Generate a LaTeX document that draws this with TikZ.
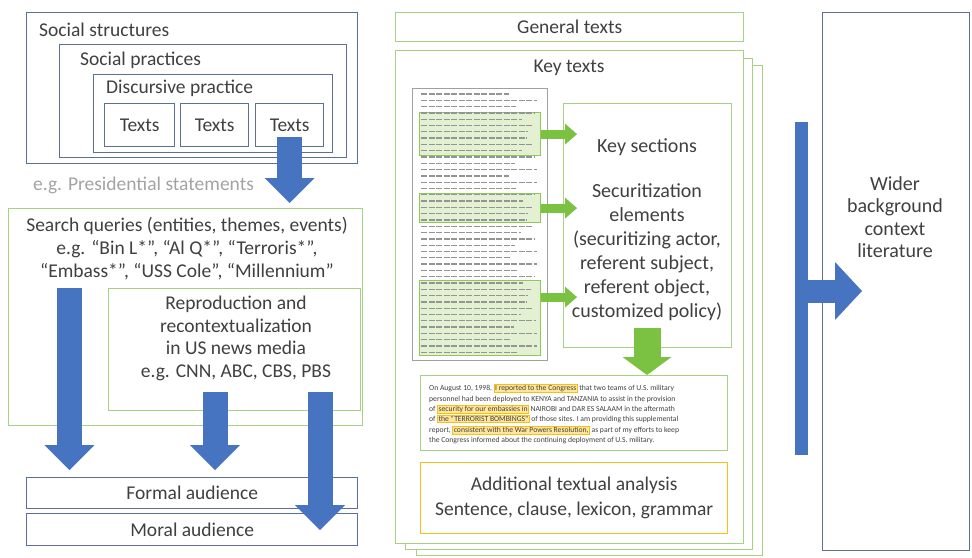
\documentclass[tikz,border=0pt]{standalone}
\usepackage{fontspec}
\setmainfont{Carlito}
\usetikzlibrary{arrows.meta}
\usetikzlibrary{positioning}
\definecolor{boxblue}{HTML}{5C6E9A}
\definecolor{arrowblue}{HTML}{4674C0}
\definecolor{boxgreen}{HTML}{A6D282}
\definecolor{arrowgreen}{HTML}{7CC242}
\definecolor{hlgreen}{HTML}{E3F1D2}
\definecolor{hlborder}{HTML}{8DC95A}
\definecolor{boxorange}{HTML}{F8BF1A}
\definecolor{hlorange}{HTML}{FFE699}
\definecolor{txtgrey}{HTML}{404040}
\definecolor{egrey}{HTML}{A3A3A3}
\definecolor{docgrey}{HTML}{A0A0A0}
\newcommand{\hlo}[1]{{\setlength{\fboxsep}{0.5pt}\setlength{\fboxrule}{0.8pt}\fcolorbox{boxorange}{hlorange}{#1}}}

\begin{document}
\begin{tikzpicture}[x=1pt,y=-1pt,
            lbl/.style={text=txtgrey,font=\fontsize{19.5}{23}\selectfont,align=center,inner sep=0pt},
            box/.style={line width=1.4pt,anchor=north west,inner sep=0pt,fill=white},
            bluebox/.style={box,draw=boxblue},
            greenbox/.style={box,draw=boxgreen},
            orangebox/.style={box,draw=boxorange},
            hlbox/.style={box,draw=hlborder,fill=hlgreen,line width=1.2pt},
            docline/.style={black!42,line width=1.3pt,dash pattern=on 6pt off 1.5pt},
            bigarrow/.style={draw=arrowblue,line width=25pt,-{Triangle[width=50pt,length=25pt,line width=0pt]}},
            sidearrow/.style={draw=arrowblue,line width=23pt,-{Triangle[width=58pt,length=27pt,line width=0pt]}},
            greenarrow/.style={draw=arrowgreen,line width=9pt,-{Triangle[width=21pt,length=12pt,line width=0pt]}},
            biggreen/.style={draw=arrowgreen,line width=27pt,-{Triangle[width=49pt,length=18pt,line width=0pt]}}]
            \useasboundingbox (0,0) rectangle (972,557);
            \node[bluebox,minimum width=331pt,minimum height=151pt] (ss) at (26,12) {};
            \node[bluebox,minimum width=287pt,minimum height=113pt] (sp) at (59,44) {};
            \node[bluebox,minimum width=239pt,minimum height=78pt] (dp) at (93,74) {};
            \foreach \i/\x/\w in {1/104/70,2/180/68,3/255/68}
                \node[bluebox,lbl,minimum width=\w pt,minimum height=43pt] (t\i) at (\x,103) {Texts};
            \node[lbl,anchor=west] (sslbl) at (39,30) {Social structures};
            \node[lbl,anchor=west] (splbl) at (80,60) {Social practices};
            \node[lbl,anchor=west] (dplbl) at (106,88) {Discursive practice};
            \node[lbl,anchor=west,text=egrey] (eglbl) at (33,185) {e.g. Presidential statements};
            \node[greenbox,minimum width=354pt,minimum height=217pt] (sq) at (8,208) {};
            \node[lbl] (sqlbl) at (187,249) {Search queries (entities, themes, events)\\e.g. “Bin L*”, “Al Q*”, “Terroris*”,\\“Embass*”, “USS Cole”, “Millennium”};
            \node[greenbox,minimum width=252pt,minimum height=122pt] (rp) at (108,288) {};
            \node[lbl,font=\fontsize{19.5}{22.5}\selectfont] (rplbl) at (236,338.5) {Reproduction and\\recontextualization\\in US news media\\e.g. CNN, ABC, CBS, PBS};
            \node[bluebox,lbl,minimum width=331pt,minimum height=31pt] (fa) at (26,477) {Formal audience};
            \node[bluebox,lbl,minimum width=331pt,minimum height=32pt] (ma) at (26,513) {Moral audience};
            \draw[bigarrow,shorten >=5pt] ([yshift=-11.5pt]t3.center) -- (t3 |- sq.north);
            \coordinate (la) at (69.5,288);
            \coordinate (mb) at (215,392);
            \coordinate (rb) at (320,392);
            \draw[bigarrow,shorten >=7pt] (la) -- (la |- fa.north);
            \draw[bigarrow,shorten >=7pt] (mb) -- (mb |- fa.north);
            \draw[bigarrow,shorten >=-17pt] (rb) -- (rb |- ma.north);
            \node[greenbox,lbl,minimum width=348pt,minimum height=29pt] (gt) at (395,12) {General texts};
            \node[greenbox,minimum width=346pt,minimum height=490pt] (kt3) at (416,65) {};
            \node[greenbox,minimum width=347pt,minimum height=491pt] (kt2) at (405,58) {};
            \node[greenbox,minimum width=348pt,minimum height=493pt] (kt) at (395,50) {};
            \node[lbl] (ktlbl) at (569,68) {Key texts};
            \node[box,draw=docgrey,line width=1pt,minimum width=135pt,minimum height=272pt] (doc) at (412,88) {};
            \foreach \i/\y/\h in {1/112/43,2/193/29,3/280/75}
                \node[hlbox,minimum width=121pt,minimum height=\h pt] (hl\i) at (419,\y) {};
            \foreach \k in {0,...,41}
                \draw[docline] (421,94+6.3*\k) -- ++({88+28*abs(sin(\k*97))},0);
            \node[greenbox,minimum width=168pt,minimum height=244pt] (ks) at (563,103) {};
            \node[lbl,font=\fontsize{20}{24}\selectfont] (kslbl) at (647,147) {Key sections};
            \node[lbl,font=\fontsize{20}{24}\selectfont] (selbl) at (647,252) {Securitization\\elements\\(securitizing actor,\\referent subject,\\referent object,\\customized policy)};
            \draw[greenarrow,shorten >=-14pt] (hl1.east) -- (hl1.east -| ks.west);
            \draw[greenarrow,shorten >=-14pt] (hl2.east) -- (hl2.east -| ks.west);
            \draw[greenarrow,shorten >=-14pt] ([yshift=21pt]hl3.east) -- ([yshift=21pt]hl3.east -| ks.west);
            \node[greenbox,minimum width=307pt,minimum height=75pt] (qb) at (420,375) {};
            \node[anchor=west,inner sep=0pt,align=left,text=txtgrey,font=\fontsize{7.65}{10.4}\selectfont] (qt) at (429,414)
                {On August 10, 1998, \hlo{I reported to the Congress} that two teams of U.S. military\\
                personnel had been deployed to KENYA and TANZANIA to assist in the provision\\
                of \hlo{security for our embassies in} NAIROBI and DAR ES SALAAM in the aftermath\\
                of \hlo{the “TERRORIST BOMBINGS”} of those sites. I am providing this supplemental\\
                report, \hlo{consistent with the War Powers Resolution,} as part of my efforts to keep\\
                the Congress informed about the continuing deployment of U.S. military.};
            \coordinate (gs) at (647,328);
            \draw[biggreen] (gs) -- (gs |- qb.north);
            \node[orangebox,lbl,font=\fontsize{19.5}{25}\selectfont,minimum width=307pt,minimum height=71pt] (ad) at (420,462) {Additional textual analysis\\Sentence, clause, lexicon, grammar};
            \node[bluebox,minimum width=147pt,minimum height=538pt] (wb) at (822,12) {};
            \node[lbl,font=\fontsize{20}{22.5}\selectfont] (wblbl) at (895,217) {Wider\\background\\context\\literature};
            \coordinate (bt) at (801.5,122);
            \coordinate (bb) at (801.5,455);
            \coordinate (bm) at (801.5,291);
            \draw[arrowblue,line width=13pt] (bt) -- (bb);
            \draw[sidearrow,shorten >=-40pt] (bm) -- (bm -| wb.west);
\end{tikzpicture}
\end{document}
